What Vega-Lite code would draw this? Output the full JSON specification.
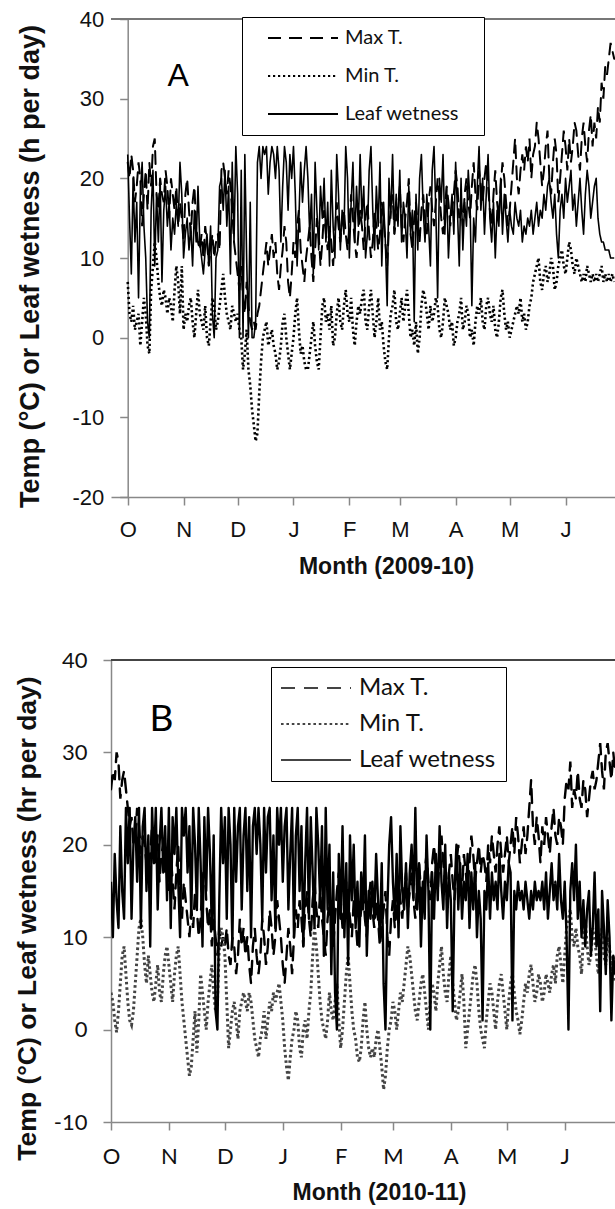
{
"$schema":"https://vega.github.io/schema/vega-lite/v6.json",
"background":"white",
"padding":{"left":14,"top":8,"right":0,"bottom":0},
"config":{"legend":{"symbolType":"stroke"}},
"datasets":{
"a":[{"d":0,"mx":22,"mn":7,"lw":23},{"d":1,"mx":20,"mn":3,"lw":15},{"d":2,"mx":23,"mn":2,"lw":8},{"d":3,"mx":21,"mn":4,"lw":20},{"d":4,"mx":17,"mn":1,"lw":12},{"d":5,"mx":19,"mn":2,"lw":17},{"d":6,"mx":22,"mn":3,"lw":5},{"d":7,"mx":20,"mn":-1,"lw":18},{"d":8,"mx":14,"mn":2,"lw":22},{"d":9,"mx":18,"mn":5,"lw":14},
{"d":10,"mx":21,"mn":3,"lw":10},{"d":11,"mx":16,"mn":-1,"lw":2},{"d":12,"mx":22,"mn":-2,"lw":0},{"d":13,"mx":19,"mn":6,"lw":16},{"d":14,"mx":24,"mn":9,"lw":21},{"d":15,"mx":25,"mn":12,"lw":9},{"d":16,"mx":18,"mn":10,"lw":18},{"d":17,"mx":16,"mn":7,"lw":12},{"d":18,"mx":20,"mn":5,"lw":20},{"d":19,"mx":18,"mn":4,"lw":7},
{"d":20,"mx":17,"mn":6,"lw":16},{"d":21,"mx":21,"mn":5,"lw":19},{"d":22,"mx":19,"mn":3,"lw":14},{"d":23,"mx":15,"mn":5,"lw":17},{"d":24,"mx":20,"mn":4,"lw":11},{"d":25,"mx":18,"mn":2,"lw":15},{"d":26,"mx":16,"mn":6,"lw":13},{"d":27,"mx":19,"mn":9,"lw":17},{"d":28,"mx":14,"mn":7,"lw":14},{"d":29,"mx":17,"mn":3,"lw":22},
{"d":30,"mx":15,"mn":9,"lw":18},{"d":31,"mx":12,"mn":1,"lw":10},{"d":32,"mx":18,"mn":3,"lw":13},{"d":33,"mx":20,"mn":2,"lw":15},{"d":34,"mx":16,"mn":4,"lw":11},{"d":35,"mx":13,"mn":5,"lw":14},{"d":36,"mx":17,"mn":2,"lw":9},{"d":37,"mx":19,"mn":0,"lw":16},{"d":38,"mx":14,"mn":3,"lw":12},{"d":39,"mx":12,"mn":6,"lw":19},
{"d":40,"mx":11,"mn":3,"lw":12},{"d":41,"mx":13,"mn":2,"lw":10},{"d":42,"mx":10,"mn":1,"lw":8},{"d":43,"mx":14,"mn":4,"lw":11},{"d":44,"mx":12,"mn":0,"lw":13},{"d":45,"mx":9,"mn":-1,"lw":9},{"d":46,"mx":11,"mn":2,"lw":14},{"d":47,"mx":13,"mn":5,"lw":3},{"d":48,"mx":10,"mn":4,"lw":0},{"d":49,"mx":12,"mn":1,"lw":10},
{"d":50,"mx":13,"mn":2,"lw":11},{"d":51,"mx":11,"mn":4,"lw":19},{"d":52,"mx":21,"mn":6,"lw":20},{"d":53,"mx":22,"mn":8,"lw":16},{"d":54,"mx":20,"mn":5,"lw":21},{"d":55,"mx":18,"mn":3,"lw":14},{"d":56,"mx":21,"mn":2,"lw":19},{"d":57,"mx":19,"mn":1,"lw":8},{"d":58,"mx":16,"mn":4,"lw":22},{"d":59,"mx":12,"mn":3,"lw":12},
{"d":60,"mx":10,"mn":2,"lw":24},{"d":61,"mx":8,"mn":3,"lw":18},{"d":62,"mx":6,"mn":1,"lw":0},{"d":63,"mx":9,"mn":0,"lw":21},{"d":64,"mx":5,"mn":-4,"lw":0},{"d":65,"mx":3,"mn":-2,"lw":23},{"d":66,"mx":7,"mn":1,"lw":10},{"d":67,"mx":4,"mn":-4,"lw":0},{"d":68,"mx":2,"mn":-6,"lw":17},{"d":69,"mx":1,"mn":-9,"lw":0},
{"d":70,"mx":2,"mn":-11,"lw":0},{"d":71,"mx":1,"mn":-13,"lw":2},{"d":72,"mx":3,"mn":-12,"lw":22},{"d":73,"mx":4,"mn":-7,"lw":24},{"d":74,"mx":6,"mn":-3,"lw":20},{"d":75,"mx":8,"mn":0,"lw":24},{"d":76,"mx":10,"mn":1,"lw":23},{"d":77,"mx":12,"mn":2,"lw":24},{"d":78,"mx":9,"mn":-1,"lw":18},{"d":79,"mx":11,"mn":0,"lw":22},
{"d":80,"mx":13,"mn":1,"lw":24},{"d":81,"mx":10,"mn":-1,"lw":23},{"d":82,"mx":12,"mn":-2,"lw":20},{"d":83,"mx":8,"mn":-4,"lw":24},{"d":84,"mx":6,"mn":-3,"lw":21},{"d":85,"mx":9,"mn":-1,"lw":12},{"d":86,"mx":11,"mn":2,"lw":19},{"d":87,"mx":14,"mn":3,"lw":24},{"d":88,"mx":12,"mn":0,"lw":22},{"d":89,"mx":7,"mn":-2,"lw":16},
{"d":90,"mx":5,"mn":-4,"lw":23},{"d":91,"mx":8,"mn":-2,"lw":20},{"d":92,"mx":12,"mn":0,"lw":24},{"d":93,"mx":10,"mn":3,"lw":18},{"d":94,"mx":14,"mn":5,"lw":9},{"d":95,"mx":16,"mn":1,"lw":15},{"d":96,"mx":11,"mn":-2,"lw":22},{"d":97,"mx":9,"mn":-1,"lw":17},{"d":98,"mx":7,"mn":-3,"lw":21},{"d":99,"mx":10,"mn":-4,"lw":24},
{"d":100,"mx":12,"mn":-4,"lw":20},{"d":101,"mx":14,"mn":-2,"lw":13},{"d":102,"mx":10,"mn":0,"lw":18},{"d":103,"mx":7,"mn":2,"lw":8},{"d":104,"mx":11,"mn":-1,"lw":22},{"d":105,"mx":15,"mn":-3,"lw":16},{"d":106,"mx":13,"mn":-4,"lw":11},{"d":107,"mx":9,"mn":0,"lw":19},{"d":108,"mx":12,"mn":4,"lw":15},{"d":109,"mx":16,"mn":5,"lw":20},
{"d":110,"mx":13,"mn":2,"lw":12},{"d":111,"mx":11,"mn":3,"lw":17},{"d":112,"mx":14,"mn":1,"lw":9},{"d":113,"mx":12,"mn":4,"lw":21},{"d":114,"mx":9,"mn":-1,"lw":14},{"d":115,"mx":13,"mn":0,"lw":10},{"d":116,"mx":17,"mn":3,"lw":23},{"d":117,"mx":14,"mn":5,"lw":18},{"d":118,"mx":12,"mn":2,"lw":11},{"d":119,"mx":15,"mn":1,"lw":16},
{"d":120,"mx":16,"mn":4,"lw":13},{"d":121,"mx":13,"mn":6,"lw":24},{"d":122,"mx":11,"mn":3,"lw":20},{"d":123,"mx":14,"mn":2,"lw":10},{"d":124,"mx":18,"mn":5,"lw":17},{"d":125,"mx":15,"mn":1,"lw":22},{"d":126,"mx":12,"mn":-1,"lw":12},{"d":127,"mx":10,"mn":2,"lw":19},{"d":128,"mx":13,"mn":4,"lw":14},{"d":129,"mx":16,"mn":3,"lw":23},
{"d":130,"mx":14,"mn":5,"lw":15},{"d":131,"mx":11,"mn":6,"lw":19},{"d":132,"mx":15,"mn":2,"lw":10},{"d":133,"mx":17,"mn":1,"lw":13},{"d":134,"mx":13,"mn":4,"lw":21},{"d":135,"mx":10,"mn":6,"lw":24},{"d":136,"mx":12,"mn":3,"lw":16},{"d":137,"mx":16,"mn":0,"lw":11},{"d":138,"mx":14,"mn":2,"lw":19},{"d":139,"mx":11,"mn":5,"lw":14},
{"d":140,"mx":13,"mn":1,"lw":22},{"d":141,"mx":17,"mn":2,"lw":9},{"d":142,"mx":15,"mn":-1,"lw":17},{"d":143,"mx":12,"mn":-3,"lw":12},{"d":144,"mx":9,"mn":-4,"lw":4},{"d":145,"mx":14,"mn":0,"lw":20},{"d":146,"mx":16,"mn":3,"lw":15},{"d":147,"mx":18,"mn":4,"lw":23},{"d":148,"mx":13,"mn":6,"lw":13},{"d":149,"mx":15,"mn":2,"lw":18},
{"d":150,"mx":16,"mn":1,"lw":14},{"d":151,"mx":19,"mn":3,"lw":21},{"d":152,"mx":14,"mn":5,"lw":12},{"d":153,"mx":12,"mn":2,"lw":17},{"d":154,"mx":15,"mn":4,"lw":15},{"d":155,"mx":17,"mn":6,"lw":10},{"d":156,"mx":20,"mn":3,"lw":19},{"d":157,"mx":13,"mn":0,"lw":13},{"d":158,"mx":11,"mn":1,"lw":16},{"d":159,"mx":15,"mn":-1,"lw":2},
{"d":160,"mx":17,"mn":2,"lw":18},{"d":161,"mx":14,"mn":-2,"lw":11},{"d":162,"mx":12,"mn":0,"lw":20},{"d":163,"mx":16,"mn":4,"lw":23},{"d":164,"mx":18,"mn":6,"lw":16},{"d":165,"mx":15,"mn":5,"lw":12},{"d":166,"mx":13,"mn":3,"lw":18},{"d":167,"mx":17,"mn":1,"lw":14},{"d":168,"mx":19,"mn":4,"lw":9},{"d":169,"mx":16,"mn":2,"lw":21},
{"d":170,"mx":14,"mn":3,"lw":24},{"d":171,"mx":17,"mn":5,"lw":16},{"d":172,"mx":20,"mn":4,"lw":5},{"d":173,"mx":18,"mn":1,"lw":20},{"d":174,"mx":15,"mn":0,"lw":17},{"d":175,"mx":13,"mn":2,"lw":23},{"d":176,"mx":16,"mn":5,"lw":13},{"d":177,"mx":19,"mn":4,"lw":19},{"d":178,"mx":17,"mn":3,"lw":10},{"d":179,"mx":14,"mn":1,"lw":15},
{"d":180,"mx":16,"mn":2,"lw":18},{"d":181,"mx":18,"mn":-1,"lw":13},{"d":182,"mx":21,"mn":0,"lw":22},{"d":183,"mx":19,"mn":2,"lw":16},{"d":184,"mx":15,"mn":3,"lw":9},{"d":185,"mx":17,"mn":5,"lw":20},{"d":186,"mx":14,"mn":1,"lw":11},{"d":187,"mx":18,"mn":2,"lw":17},{"d":188,"mx":20,"mn":4,"lw":14},{"d":189,"mx":17,"mn":3,"lw":21},
{"d":190,"mx":15,"mn":0,"lw":17},{"d":191,"mx":19,"mn":1,"lw":4},{"d":192,"mx":22,"mn":-1,"lw":15},{"d":193,"mx":18,"mn":2,"lw":12},{"d":194,"mx":16,"mn":4,"lw":19},{"d":195,"mx":21,"mn":3,"lw":24},{"d":196,"mx":19,"mn":5,"lw":16},{"d":197,"mx":17,"mn":2,"lw":20},{"d":198,"mx":20,"mn":1,"lw":13},{"d":199,"mx":22,"mn":4,"lw":18},
{"d":200,"mx":19,"mn":5,"lw":23},{"d":201,"mx":16,"mn":3,"lw":15},{"d":202,"mx":14,"mn":2,"lw":12},{"d":203,"mx":18,"mn":4,"lw":17},{"d":204,"mx":21,"mn":1,"lw":10},{"d":205,"mx":17,"mn":0,"lw":16},{"d":206,"mx":15,"mn":2,"lw":14},{"d":207,"mx":19,"mn":5,"lw":20},{"d":208,"mx":22,"mn":6,"lw":13},{"d":209,"mx":20,"mn":3,"lw":18},
{"d":210,"mx":17,"mn":1,"lw":15},{"d":211,"mx":14,"mn":2,"lw":12},{"d":212,"mx":16,"mn":0,"lw":16},{"d":213,"mx":19,"mn":1,"lw":14},{"d":214,"mx":22,"mn":2,"lw":13},{"d":215,"mx":25,"mn":3,"lw":17},{"d":216,"mx":20,"mn":4,"lw":15},{"d":217,"mx":18,"mn":3,"lw":14},{"d":218,"mx":21,"mn":5,"lw":16},{"d":219,"mx":23,"mn":2,"lw":12},
{"d":220,"mx":21,"mn":3,"lw":14},{"d":221,"mx":24,"mn":1,"lw":13},{"d":222,"mx":22,"mn":2,"lw":15},{"d":223,"mx":25,"mn":4,"lw":14},{"d":224,"mx":20,"mn":5,"lw":16},{"d":225,"mx":23,"mn":7,"lw":13},{"d":226,"mx":24,"mn":8,"lw":15},{"d":227,"mx":27,"mn":9,"lw":17},{"d":228,"mx":25,"mn":10,"lw":14},{"d":229,"mx":22,"mn":7,"lw":16},
{"d":230,"mx":19,"mn":6,"lw":15},{"d":231,"mx":21,"mn":8,"lw":18},{"d":232,"mx":24,"mn":9,"lw":16},{"d":233,"mx":26,"mn":7,"lw":19},{"d":234,"mx":20,"mn":8,"lw":20},{"d":235,"mx":18,"mn":10,"lw":17},{"d":236,"mx":22,"mn":9,"lw":15},{"d":237,"mx":25,"mn":6,"lw":18},{"d":238,"mx":23,"mn":7,"lw":13},{"d":239,"mx":17,"mn":9,"lw":10},
{"d":240,"mx":20,"mn":10,"lw":16},{"d":241,"mx":23,"mn":11,"lw":18},{"d":242,"mx":26,"mn":9,"lw":15},{"d":243,"mx":24,"mn":8,"lw":20},{"d":244,"mx":21,"mn":10,"lw":17},{"d":245,"mx":25,"mn":12,"lw":19},{"d":246,"mx":22,"mn":11,"lw":21},{"d":247,"mx":24,"mn":9,"lw":16},{"d":248,"mx":27,"mn":8,"lw":18},{"d":249,"mx":26,"mn":10,"lw":14},
{"d":250,"mx":23,"mn":9,"lw":17},{"d":251,"mx":21,"mn":8,"lw":20},{"d":252,"mx":25,"mn":7,"lw":16},{"d":253,"mx":27,"mn":8,"lw":13},{"d":254,"mx":24,"mn":7,"lw":18},{"d":255,"mx":22,"mn":9,"lw":21},{"d":256,"mx":26,"mn":8,"lw":19},{"d":257,"mx":28,"mn":7,"lw":15},{"d":258,"mx":24,"mn":8,"lw":17},{"d":259,"mx":27,"mn":7,"lw":19},
{"d":260,"mx":25,"mn":8,"lw":20},{"d":261,"mx":29,"mn":7,"lw":15},{"d":262,"mx":27,"mn":8,"lw":13},{"d":263,"mx":32,"mn":9,"lw":12},{"d":264,"mx":30,"mn":7,"lw":12},{"d":265,"mx":34,"mn":8,"lw":11},{"d":266,"mx":33,"mn":7,"lw":11},{"d":267,"mx":35,"mn":8,"lw":11},{"d":268,"mx":37,"mn":7,"lw":10},{"d":269,"mx":36,"mn":8,"lw":10},{"d":270,"mx":35,"mn":7,"lw":10}],
"b":[{"d":0,"mx":26,"mn":4,"lw":16},{"d":1,"mx":28,"mn":3,"lw":10},{"d":2,"mx":27,"mn":1,"lw":19},{"d":3,"mx":30,"mn":-0.3,"lw":14},{"d":4,"mx":29,"mn":2,"lw":11},{"d":5,"mx":25,"mn":5,"lw":22},{"d":6,"mx":27,"mn":8,"lw":15},{"d":7,"mx":28,"mn":9,"lw":12},{"d":8,"mx":26,"mn":6,"lw":24},{"d":9,"mx":24,"mn":3,"lw":18},
{"d":10,"mx":22,"mn":1,"lw":24},{"d":11,"mx":23,"mn":0.5,"lw":12},{"d":12,"mx":20,"mn":2,"lw":20},{"d":13,"mx":21,"mn":5,"lw":23},{"d":14,"mx":24,"mn":8,"lw":16},{"d":15,"mx":22,"mn":11,"lw":24},{"d":16,"mx":19,"mn":12,"lw":11},{"d":17,"mx":21,"mn":10,"lw":22},{"d":18,"mx":20,"mn":7,"lw":24},{"d":19,"mx":18,"mn":5,"lw":15},
{"d":20,"mx":17,"mn":8,"lw":21},{"d":21,"mx":19,"mn":6,"lw":9},{"d":22,"mx":22,"mn":4,"lw":24},{"d":23,"mx":20,"mn":3,"lw":18},{"d":24,"mx":18,"mn":5,"lw":24},{"d":25,"mx":21,"mn":7,"lw":13},{"d":26,"mx":16,"mn":4,"lw":20},{"d":27,"mx":19,"mn":3,"lw":24},{"d":28,"mx":20,"mn":6,"lw":17},{"d":29,"mx":17,"mn":8,"lw":22},
{"d":30,"mx":18,"mn":9,"lw":14},{"d":31,"mx":15,"mn":7,"lw":24},{"d":32,"mx":19,"mn":5,"lw":11},{"d":33,"mx":16,"mn":3,"lw":23},{"d":34,"mx":13,"mn":6,"lw":19},{"d":35,"mx":17,"mn":8,"lw":24},{"d":36,"mx":20,"mn":9,"lw":16},{"d":37,"mx":14,"mn":6,"lw":10},{"d":38,"mx":12,"mn":3,"lw":24},{"d":39,"mx":16,"mn":1,"lw":21},
{"d":40,"mx":14,"mn":-1,"lw":24},{"d":41,"mx":12,"mn":-3,"lw":17},{"d":42,"mx":10,"mn":-5,"lw":22},{"d":43,"mx":13,"mn":-4,"lw":12},{"d":44,"mx":11,"mn":-1,"lw":24},{"d":45,"mx":15,"mn":2,"lw":20},{"d":46,"mx":13,"mn":-2.5,"lw":13},{"d":47,"mx":10,"mn":1,"lw":24},{"d":48,"mx":12,"mn":6,"lw":18},{"d":49,"mx":16,"mn":4,"lw":9},
{"d":50,"mx":18,"mn":2,"lw":23},{"d":51,"mx":14,"mn":0,"lw":15},{"d":52,"mx":11,"mn":3,"lw":24},{"d":53,"mx":13,"mn":5,"lw":19},{"d":54,"mx":9,"mn":7,"lw":11},{"d":55,"mx":12,"mn":4,"lw":21},{"d":56,"mx":10,"mn":2,"lw":2},{"d":57,"mx":8,"mn":3,"lw":0},{"d":58,"mx":11,"mn":9,"lw":14},{"d":59,"mx":9,"mn":11,"lw":24},
{"d":60,"mx":10,"mn":10,"lw":18},{"d":61,"mx":9,"mn":8,"lw":23},{"d":62,"mx":11,"mn":3,"lw":12},{"d":63,"mx":8,"mn":-2,"lw":24},{"d":64,"mx":7,"mn":0,"lw":20},{"d":65,"mx":10,"mn":2,"lw":9},{"d":66,"mx":9,"mn":3,"lw":24},{"d":67,"mx":6,"mn":1,"lw":16},{"d":68,"mx":8,"mn":-1,"lw":22},{"d":69,"mx":12,"mn":2,"lw":24},
{"d":70,"mx":9,"mn":3,"lw":13},{"d":71,"mx":11,"mn":4,"lw":21},{"d":72,"mx":8,"mn":3,"lw":24},{"d":73,"mx":10,"mn":2,"lw":15},{"d":74,"mx":7,"mn":4,"lw":23},{"d":75,"mx":5,"mn":3,"lw":10},{"d":76,"mx":9,"mn":1,"lw":22},{"d":77,"mx":11,"mn":-1,"lw":24},{"d":78,"mx":8,"mn":-2,"lw":19},{"d":79,"mx":6,"mn":-3,"lw":24},
{"d":80,"mx":8,"mn":-1,"lw":20},{"d":81,"mx":12,"mn":0,"lw":12},{"d":82,"mx":10,"mn":2,"lw":24},{"d":83,"mx":7,"mn":-1,"lw":17},{"d":84,"mx":9,"mn":1,"lw":23},{"d":85,"mx":13,"mn":3,"lw":24},{"d":86,"mx":11,"mn":2,"lw":14},{"d":87,"mx":8,"mn":4,"lw":21},{"d":88,"mx":10,"mn":3,"lw":11},{"d":89,"mx":14,"mn":4,"lw":24},
{"d":90,"mx":12,"mn":5,"lw":20},{"d":91,"mx":10,"mn":3,"lw":24},{"d":92,"mx":7,"mn":1,"lw":16},{"d":93,"mx":5,"mn":-2,"lw":22},{"d":94,"mx":8,"mn":-4,"lw":24},{"d":95,"mx":11,"mn":-5.5,"lw":13},{"d":96,"mx":9,"mn":-3,"lw":19},{"d":97,"mx":6,"mn":-1,"lw":24},{"d":98,"mx":10,"mn":0,"lw":10},{"d":99,"mx":13,"mn":2,"lw":21},
{"d":100,"mx":11,"mn":1,"lw":24},{"d":101,"mx":14,"mn":-2,"lw":15},{"d":102,"mx":12,"mn":-3,"lw":22},{"d":103,"mx":9,"mn":0,"lw":9},{"d":104,"mx":13,"mn":1,"lw":18},{"d":105,"mx":15,"mn":-1,"lw":24},{"d":106,"mx":12,"mn":2,"lw":12},{"d":107,"mx":10,"mn":4,"lw":23},{"d":108,"mx":14,"mn":8,"lw":17},{"d":109,"mx":16,"mn":11,"lw":11},
{"d":110,"mx":13,"mn":9,"lw":24},{"d":111,"mx":11,"mn":6,"lw":20},{"d":112,"mx":15,"mn":3,"lw":14},{"d":113,"mx":12,"mn":1,"lw":22},{"d":114,"mx":10,"mn":0,"lw":8},{"d":115,"mx":8,"mn":-1,"lw":24},{"d":116,"mx":12,"mn":1,"lw":13},{"d":117,"mx":14,"mn":4,"lw":20},{"d":118,"mx":11,"mn":2,"lw":6},{"d":119,"mx":9,"mn":1,"lw":17},
{"d":120,"mx":12,"mn":3,"lw":4},{"d":121,"mx":15,"mn":5,"lw":0},{"d":122,"mx":17,"mn":1,"lw":19},{"d":123,"mx":14,"mn":-2,"lw":12},{"d":124,"mx":11,"mn":0,"lw":22},{"d":125,"mx":13,"mn":3,"lw":10},{"d":126,"mx":16,"mn":6,"lw":18},{"d":127,"mx":14,"mn":8,"lw":7},{"d":128,"mx":12,"mn":5,"lw":21},{"d":129,"mx":10,"mn":2,"lw":14},
{"d":130,"mx":14,"mn":0,"lw":20},{"d":131,"mx":12,"mn":-1,"lw":11},{"d":132,"mx":9,"mn":-3,"lw":16},{"d":133,"mx":11,"mn":-3.5,"lw":9},{"d":134,"mx":13,"mn":-2,"lw":17},{"d":135,"mx":15,"mn":1,"lw":13},{"d":136,"mx":12,"mn":3,"lw":21},{"d":137,"mx":10,"mn":0,"lw":8},{"d":138,"mx":14,"mn":-2,"lw":15},{"d":139,"mx":16,"mn":-3,"lw":12},
{"d":140,"mx":13,"mn":-2,"lw":16},{"d":141,"mx":11,"mn":-3,"lw":12},{"d":142,"mx":14,"mn":-1,"lw":19},{"d":143,"mx":12,"mn":0,"lw":14},{"d":144,"mx":9,"mn":-2,"lw":10},{"d":145,"mx":11,"mn":-4,"lw":18},{"d":146,"mx":13,"mn":-6.5,"lw":5},{"d":147,"mx":15,"mn":-5,"lw":0},{"d":148,"mx":10,"mn":-2,"lw":13},{"d":149,"mx":8,"mn":0,"lw":20},
{"d":150,"mx":12,"mn":1,"lw":23},{"d":151,"mx":14,"mn":3,"lw":16},{"d":152,"mx":11,"mn":2,"lw":12},{"d":153,"mx":13,"mn":0,"lw":19},{"d":154,"mx":16,"mn":2,"lw":10},{"d":155,"mx":14,"mn":4,"lw":22},{"d":156,"mx":12,"mn":3,"lw":15},{"d":157,"mx":15,"mn":5,"lw":13},{"d":158,"mx":17,"mn":7,"lw":18},{"d":159,"mx":13,"mn":9,"lw":11},
{"d":160,"mx":15,"mn":8,"lw":17},{"d":161,"mx":17,"mn":6,"lw":20},{"d":162,"mx":14,"mn":4,"lw":14},{"d":163,"mx":12,"mn":2,"lw":24},{"d":164,"mx":16,"mn":1,"lw":13},{"d":165,"mx":18,"mn":3,"lw":18},{"d":166,"mx":15,"mn":5,"lw":9},{"d":167,"mx":13,"mn":6,"lw":16},{"d":168,"mx":17,"mn":4,"lw":12},{"d":169,"mx":19,"mn":2,"lw":21},
{"d":170,"mx":16,"mn":0,"lw":15},{"d":171,"mx":14,"mn":3,"lw":0},{"d":172,"mx":18,"mn":5,"lw":17},{"d":173,"mx":20,"mn":4,"lw":12},{"d":174,"mx":17,"mn":2,"lw":19},{"d":175,"mx":15,"mn":5,"lw":14},{"d":176,"mx":19,"mn":7,"lw":22},{"d":177,"mx":21,"mn":9,"lw":16},{"d":178,"mx":18,"mn":6,"lw":13},{"d":179,"mx":16,"mn":4,"lw":20},
{"d":180,"mx":14,"mn":3,"lw":11},{"d":181,"mx":17,"mn":6,"lw":17},{"d":182,"mx":19,"mn":8,"lw":14},{"d":183,"mx":16,"mn":5,"lw":2},{"d":184,"mx":14,"mn":3,"lw":15},{"d":185,"mx":18,"mn":1,"lw":20},{"d":186,"mx":20,"mn":2,"lw":13},{"d":187,"mx":17,"mn":4,"lw":18},{"d":188,"mx":15,"mn":6,"lw":12},{"d":189,"mx":19,"mn":3,"lw":16},
{"d":190,"mx":17,"mn":-2,"lw":14},{"d":191,"mx":15,"mn":0,"lw":19},{"d":192,"mx":18,"mn":2,"lw":11},{"d":193,"mx":21,"mn":4,"lw":17},{"d":194,"mx":19,"mn":6,"lw":13},{"d":195,"mx":16,"mn":7,"lw":18},{"d":196,"mx":18,"mn":5,"lw":10},{"d":197,"mx":20,"mn":2,"lw":15},{"d":198,"mx":17,"mn":0,"lw":12},{"d":199,"mx":19,"mn":-1,"lw":1},
{"d":200,"mx":18,"mn":-2,"lw":15},{"d":201,"mx":16,"mn":1,"lw":13},{"d":202,"mx":20,"mn":3,"lw":18},{"d":203,"mx":18,"mn":5,"lw":12},{"d":204,"mx":21,"mn":4,"lw":17},{"d":205,"mx":19,"mn":2,"lw":14},{"d":206,"mx":17,"mn":0,"lw":16},{"d":207,"mx":20,"mn":3,"lw":13},{"d":208,"mx":22,"mn":5,"lw":19},{"d":209,"mx":19,"mn":6,"lw":15},
{"d":210,"mx":17,"mn":4,"lw":12},{"d":211,"mx":19,"mn":2,"lw":16},{"d":212,"mx":21,"mn":0,"lw":14},{"d":213,"mx":18,"mn":3,"lw":18},{"d":214,"mx":20,"mn":5,"lw":17},{"d":215,"mx":22,"mn":6,"lw":1},{"d":216,"mx":19,"mn":4,"lw":15},{"d":217,"mx":23,"mn":2,"lw":13},{"d":218,"mx":21,"mn":1,"lw":16},{"d":219,"mx":18,"mn":-0.5,"lw":14},
{"d":220,"mx":20,"mn":1,"lw":15},{"d":221,"mx":22,"mn":3,"lw":13},{"d":222,"mx":19,"mn":5,"lw":16},{"d":223,"mx":21,"mn":4,"lw":14},{"d":224,"mx":24,"mn":6,"lw":12},{"d":225,"mx":27,"mn":7,"lw":15},{"d":226,"mx":22,"mn":5,"lw":13},{"d":227,"mx":20,"mn":3,"lw":16},{"d":228,"mx":23,"mn":4,"lw":14},{"d":229,"mx":21,"mn":6,"lw":15},
{"d":230,"mx":18,"mn":5,"lw":14},{"d":231,"mx":22,"mn":3,"lw":16},{"d":232,"mx":20,"mn":4,"lw":13},{"d":233,"mx":23,"mn":6,"lw":17},{"d":234,"mx":21,"mn":5,"lw":12},{"d":235,"mx":19,"mn":4,"lw":15},{"d":236,"mx":22,"mn":6,"lw":18},{"d":237,"mx":24,"mn":7,"lw":14},{"d":238,"mx":21,"mn":5,"lw":16},{"d":239,"mx":20,"mn":8,"lw":13},
{"d":240,"mx":23,"mn":9,"lw":19},{"d":241,"mx":22,"mn":7,"lw":14},{"d":242,"mx":20,"mn":5,"lw":12},{"d":243,"mx":25,"mn":8,"lw":16},{"d":244,"mx":27,"mn":11,"lw":10},{"d":245,"mx":26,"mn":12,"lw":0},{"d":246,"mx":29,"mn":13,"lw":15},{"d":247,"mx":24,"mn":10,"lw":18},{"d":248,"mx":26,"mn":9,"lw":14},{"d":249,"mx":25,"mn":11,"lw":20},
{"d":250,"mx":28,"mn":9,"lw":12},{"d":251,"mx":25,"mn":8,"lw":16},{"d":252,"mx":24,"mn":6,"lw":10},{"d":253,"mx":27,"mn":10,"lw":14},{"d":254,"mx":26,"mn":12,"lw":9},{"d":255,"mx":23,"mn":9,"lw":13},{"d":256,"mx":25,"mn":7,"lw":15},{"d":257,"mx":27,"mn":8,"lw":8},{"d":258,"mx":28,"mn":11,"lw":11},{"d":259,"mx":26,"mn":10,"lw":17},
{"d":260,"mx":27,"mn":8,"lw":9},{"d":261,"mx":29,"mn":6,"lw":13},{"d":262,"mx":31,"mn":9,"lw":2},{"d":263,"mx":28,"mn":11,"lw":15},{"d":264,"mx":26,"mn":8,"lw":11},{"d":265,"mx":30,"mn":7,"lw":6},{"d":266,"mx":31,"mn":10,"lw":14},{"d":267,"mx":29,"mn":9,"lw":10},{"d":268,"mx":27,"mn":6,"lw":1},{"d":269,"mx":30,"mn":8,"lw":8},{"d":270,"mx":28,"mn":5,"lw":6}]
},
"columns":1,
"spacing":71,
"resolve":{"scale":{"strokeDash":"independent"},"legend":{"strokeDash":"independent"}},
"concat":[
{
"width":505,"height":478,
"view":{"stroke":null},
"data":{"name":"a"},
"layer":[
{"mark":{"type":"rule","color":"#777","strokeWidth":1.5},
 "encoding":{"y":{"datum":40,"type":"quantitative"}}},
{"mark":{"type":"line","color":"black","strokeWidth":2,"strokeCap":"round","clip":true},
 "encoding":{
  "x":{"field":"d","type":"quantitative","scale":{"domain":[-9.28,271],"nice":false,"zero":false},
   "axis":{"orient":"bottom","values":[0,31,61,92,123,151,182,212,243],"labelExpr":"['O','N','D','J','F','M','A','M','J'][indexof([0,31,61,92,123,151,182,212,243], datum.value)]","grid":false,"domainColor":"#888","domainWidth":1.5,"tickColor":"#888","tickWidth":1.5,"tickSize":8,"labelFont":"Liberation Sans","labelFontSize":22,"labelColor":"#111","labelPadding":14,"labelFlush":false,"title":"Month (2009-10)","titleFont":"Liberation Sans","titleFontSize":23,"titleFontWeight":"bold","titleColor":"#111","titlePadding":15,"titleX":275}},
  "y":{"field":"mx","type":"quantitative","scale":{"domain":[-20,40],"nice":false,"zero":false},
   "axis":{"offset":-16.7,"values":[-20,-10,0,10,20,30,40],"labelExpr":"datum.value < 0 ? '-' + abs(datum.value) : '' + datum.value","grid":false,"domainColor":"#888","domainWidth":1.5,"tickColor":"#888","tickWidth":1.5,"tickSize":8,"labelFont":"Liberation Sans","labelFontSize":22,"labelColor":"#111","labelPadding":16,"title":"Temp (°C) or Leaf wetness (h per day)","titleFont":"Liberation Sans","titleFontSize":27,"titleFontWeight":"bold","titleColor":"#111","titlePadding":27.5,"titleY":247}},
  "strokeDash":{"datum":"Max T.","scale":{"domain":["Max T.","Min T.","Leaf wetness"],"range":[[13,8],[2.2,2.8],[1,0]]},
   "legend":{"title":".","titleOrient":"right","titleColor":"white","titleFontSize":19,"titlePadding":8,"orient":"none","legendX":131,"legendY":-2,"symbolType":"M-7,0L7,0","symbolSize":100,"symbolStrokeWidth":2,"symbolStrokeColor":"black","symbolOffset":40,"labelOffset":32,"labelFont":"Lato","labelFontSize":20,"labelColor":"#111","rowPadding":18,"padding":11,"strokeColor":"black","fillColor":"white"}}
 }},
{"mark":{"type":"line","color":"black","strokeWidth":2.6,"strokeCap":"butt","clip":true},
 "encoding":{"x":{"field":"d","type":"quantitative"},"y":{"field":"mn","type":"quantitative"},"strokeDash":{"datum":"Min T."}}},
{"mark":{"type":"line","color":"black","strokeWidth":1.6,"strokeJoin":"round","clip":true},
 "encoding":{"x":{"field":"d","type":"quantitative"},"y":{"field":"lw","type":"quantitative"},"strokeDash":{"datum":"Leaf wetness"}}},
{"data":{"values":[{"t":"A"}]},
 "mark":{"type":"text","font":"Liberation Sans","fontSize":32,"color":"black","align":"center","baseline":"middle"},
 "encoding":{"text":{"field":"t"},"x":{"datum":28,"type":"quantitative"},"y":{"datum":32.8,"type":"quantitative"}}}
]
},
{
"width":506,"height":462,
"view":{"stroke":null},
"data":{"name":"b"},
"layer":[
{"mark":{"type":"rule","color":"#444","strokeWidth":1.5},
 "encoding":{"y":{"datum":40,"type":"quantitative"}}},
{"mark":{"type":"line","color":"black","strokeWidth":2.4,"strokeCap":"round","clip":true},
 "encoding":{
  "x":{"field":"d","type":"quantitative","scale":{"domain":[0,271],"nice":false,"zero":false},
   "axis":{"orient":"bottom","values":[0,31,61,92,123,151,182,212,243],"labelExpr":"['O','N','D','J','F','M','A','M','J'][indexof([0,31,61,92,123,151,182,212,243], datum.value)]","grid":false,"domainColor":"#888","domainWidth":1.5,"tickColor":"#888","tickWidth":1.5,"tickSize":8,"labelFont":"Lato","labelFontSize":22,"labelColor":"#111","labelPadding":16.5,"labelFlush":false,"title":"Month (2010-11)","titleFont":"Liberation Sans","titleFontSize":23,"titleFontWeight":"bold","titleColor":"#111","titlePadding":14,"titleX":268}},
  "y":{"field":"mx","type":"quantitative","scale":{"domain":[-10,40],"nice":false,"zero":false},
   "axis":{"values":[-10,0,10,20,30,40],"labelExpr":"datum.value < 0 ? '-' + abs(datum.value) : '' + datum.value","grid":false,"domainColor":"#888","domainWidth":1.5,"tickColor":"#888","tickWidth":1.5,"tickSize":8,"labelFont":"Lato","labelFontSize":22,"labelColor":"#111","labelPadding":16,"title":"Temp (°C) or Leaf wetness (hr per day)","titleFont":"Liberation Sans","titleFontSize":26.5,"titleFontWeight":"bold","titleColor":"#111","titlePadding":11.5,"titleY":258}},
  "strokeDash":{"datum":"Max T.","scale":{"domain":["Max T.","Min T.","Leaf wetness"],"range":[[14,9],[2.6,2.8],[1,0]]},
   "legend":{"title":null,"orient":"none","legendX":160,"legendY":7,"symbolType":"M-7,0L7,0","symbolSize":100,"symbolStrokeWidth":2.2,"symbolStrokeColor":"black","symbolOffset":24,"labelOffset":31,"labelFont":"Lato","labelFontSize":24,"labelColor":"#111","rowPadding":12,"padding":9,"strokeColor":"black","fillColor":"white"}}
 }},
{"mark":{"type":"line","color":"#444","strokeWidth":3,"strokeCap":"butt","clip":true},
 "encoding":{"x":{"field":"d","type":"quantitative"},"y":{"field":"mn","type":"quantitative"},"strokeDash":{"datum":"Min T."}}},
{"mark":{"type":"line","color":"black","strokeWidth":2.4,"strokeJoin":"round","clip":true},
 "encoding":{"x":{"field":"d","type":"quantitative"},"y":{"field":"lw","type":"quantitative"},"strokeDash":{"datum":"Leaf wetness"}}},
{"data":{"values":[{"t":"B"}]},
 "mark":{"type":"text","font":"Lato","fontSize":37,"color":"black","align":"center","baseline":"middle"},
 "encoding":{"text":{"field":"t"},"x":{"datum":27,"type":"quantitative"},"y":{"datum":33.5,"type":"quantitative"}}}
]
}
]
}
